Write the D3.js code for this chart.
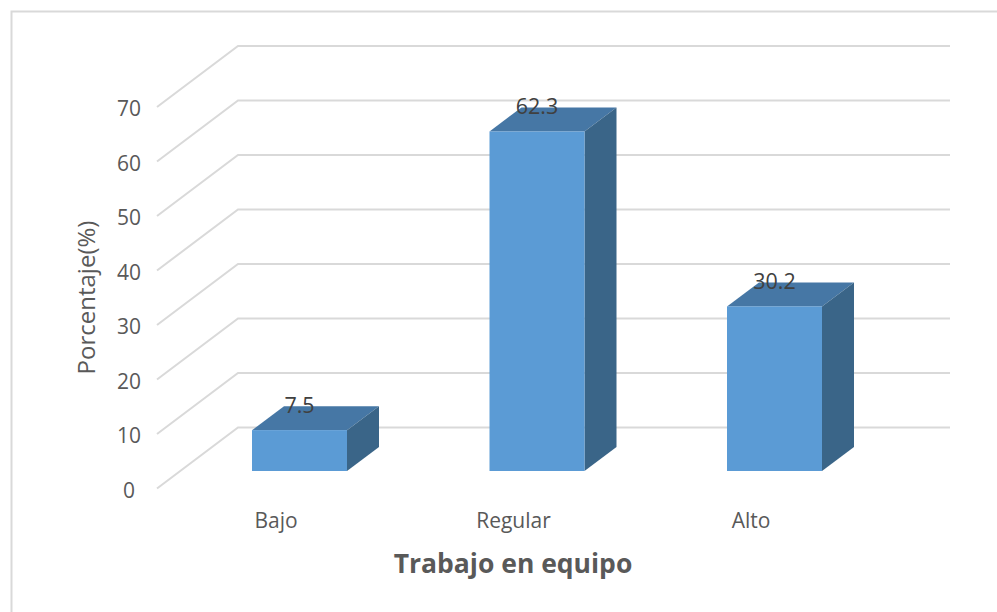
<!DOCTYPE html>
<html><head><meta charset="utf-8">
<script src="https://cdn.jsdelivr.net/npm/d3@7/dist/d3.min.js"></script>
<style>html,body{margin:0;padding:0;background:#fff}svg{display:block}text{font-family:"Open Sans",sans-serif}</style>
</head><body><svg id="c" width="997" height="612"></svg>
<script>
const categories = ["Bajo","Regular","Alto"];
const values = [7.5,62.3,30.2];
const valueLabels = ["7.5","62.3","30.2"];
const ticks = [0,10,20,30,40,50,60,70];
const yTitle = "Porcentaje(%)";
const xTitle = "Trabajo en equipo";

const svg = d3.select("#c");
const wall = {x0:238,x1:950};
const floorD = {dx:81,dy:61};
const barD = {dx:32,dy:24};
const y = d3.scaleLinear().domain([0,70]).range([427.5,46]);      // back wall
const yFront = d3.scaleLinear().domain([0,70]).range([471,89.5]); // bar front plane
const xs = d3.scalePoint().domain(categories).range([299.5,774.5]);
const bw = 95;

svg.append("path").attr("d",`M11.5,612V11.5H997`).attr("fill","none").attr("stroke","#d9d9d9").attr("stroke-width",2);

const grid = svg.append("g").attr("fill","none").attr("stroke","#d9d9d9").attr("stroke-width",2);
ticks.forEach(t=>{
  grid.append("path").attr("d",`M${wall.x0-floorD.dx},${y(t)+floorD.dy}L${wall.x0},${y(t)}H${wall.x1}`);
});

svg.append("g").attr("font-size",21).attr("fill","#595959").attr("text-anchor","middle")
 .selectAll("text").data(ticks).join("text")
 .attr("x",129).attr("y",t=>y(t)+floorD.dy+9).text(t=>t);

const bars = svg.append("g").selectAll("g").data(values).join("g");
bars.each(function(v,i){
  const g=d3.select(this), cx=xs(categories[i]), l=cx-bw/2, r=cx+bw/2, t=yFront(v), b=yFront(0);
  g.append("path").attr("d",`M${l},${t}L${l+barD.dx},${t-barD.dy}H${r+barD.dx}L${r},${t}Z`).attr("fill","#4677a5");
  g.append("path").attr("d",`M${r},${t}L${r+barD.dx},${t-barD.dy}V${b-barD.dy}L${r},${b}Z`).attr("fill","#3a6588");
  g.append("rect").attr("x",l).attr("y",t).attr("width",bw).attr("height",b-t).attr("fill","#5b9bd5");
});

svg.append("g").attr("font-size",21.5).attr("fill","#404040").attr("text-anchor","middle")
 .selectAll("text").data(values).join("text")
 .attr("x",(d,i)=>xs(categories[i])).attr("y",d=>yFront(d)-17).text((d,i)=>valueLabels[i]);

svg.append("g").attr("font-size",21).attr("fill","#595959").attr("text-anchor","middle")
 .selectAll("text").data(categories).join("text")
 .attr("x",(d,i)=>xs(d)-23.5).attr("y",528).text(d=>d);

svg.append("text").attr("transform","translate(95,297.5) rotate(-90)").attr("text-anchor","middle")
 .attr("font-size",24).attr("fill","#595959").text(yTitle);
svg.append("text").attr("x",513).attr("y",573).attr("text-anchor","middle")
 .attr("font-size",26.5).attr("font-weight","700").attr("fill","#595959").text(xTitle);
</script></body></html>
